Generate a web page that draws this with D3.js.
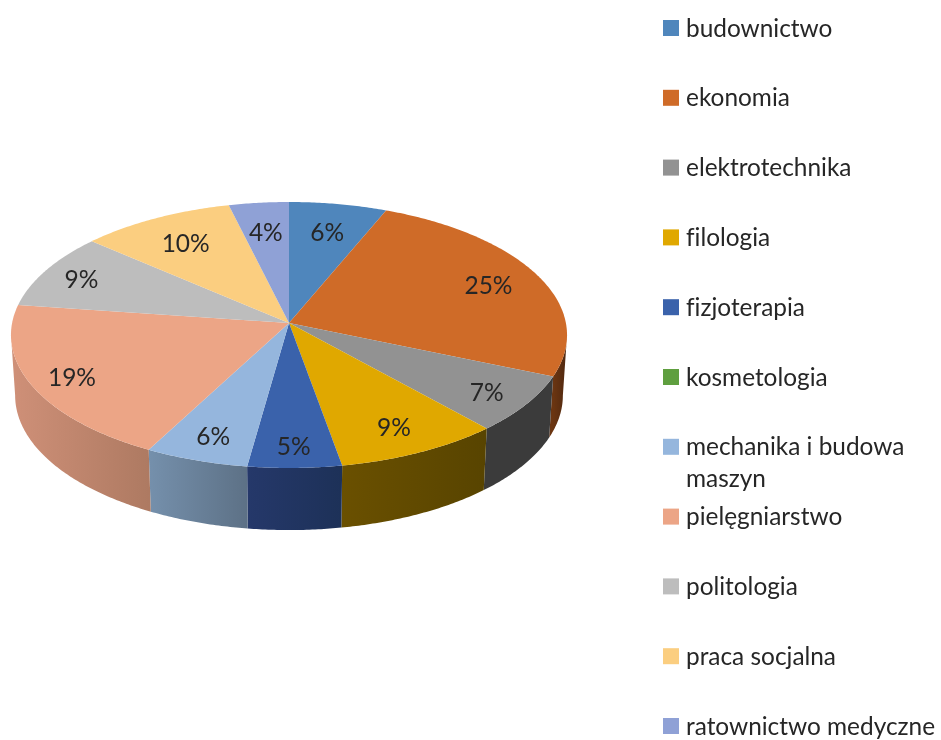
<!DOCTYPE html>
<html><head><meta charset="utf-8">
<style>html,body{margin:0;padding:0;background:#fff;overflow:hidden}svg{display:block;filter:blur(0.45px)}text{font-family:Lato,"Open Sans",sans-serif;fill:#262626;font-variant-ligatures:none}</style>
<script src="https://cdn.jsdelivr.net/npm/d3@7/dist/d3.min.js"></script>
</head><body><svg id="c" width="941" height="740"></svg>
<script>
const categories=["budownictwo","ekonomia","elektrotechnika","filologia","fizjoterapia","kosmetologia","mechanika i budowa maszyn","pielęgniarstwo","politologia","praca socjalna","ratownictwo medyczne"];
const legendLines=[["budownictwo"],["ekonomia"],["elektrotechnika"],["filologia"],["fizjoterapia"],["kosmetologia"],["mechanika i budowa","maszyn"],["pielęgniarstwo"],["politologia"],["praca socjalna"],["ratownictwo medyczne"]];
const values=[6.2,25.2,7,8.8,5,0,5.52,19.48,9.2,9.8,3.8];
const topColors=["#4f86bc","#cf6b28","#929292","#e0a800","#3a62ab","#5f9f3f","#95b6dd","#eca586","#bdbdbd","#fbce80","#8fa1d6"];
const sideStart=["#2f5070","#6b3511","#3b3b3b","#6a5000","#25386a","#3a6026","#7590ac","#cf9078","#7a7a7a","#a08550","#5a6688"];
const sideEnd=["#2f5070","#4f2810","#3b3b3b","#584400","#1d3158","#3a6026","#5d7186","#ae7a62","#7a7a7a","#a08550","#5a6688"];
const labelRadius=[.76,.8,.84,.81,.85,.8,.83,.85,.85,.76,.75];

const W=941,cx=289,cy=323,rx=276.9,ry=131.9,k=0.0902;
const svg=d3.select("#c");
const defs=svg.append("defs");
const fmt=d3.format(".0%");
const total=d3.sum(values);
const pie=d3.pie().sort(null).value(d=>d)(values);
const color=d3.scaleOrdinal(categories,topColors);
const legendY=d3.scaleLinear().domain([0,1]).range([28,97.8]);

function project(a,r=1){const u=Math.sin(a)*r,v=-Math.cos(a)*r,w=1-k*v;return [cx+rx*u/w,cy+ry*v/w];}
function lower([x,y]){return [cx+(x-cx)*0.985,y+60.5+(y-335)*0.012];}
const line=d3.line();
function rim(a0,a1){const n=Math.max(2,Math.ceil((a1-a0)/0.01));return d3.range(n+1).map(i=>project(a0+(a1-a0)*i/n));}

const aR=Math.PI/2+0.09,aL=3*Math.PI/2-0.09;
const slices=pie.map((d,i)=>({...d,i})).filter(d=>d.value>0);

const sides=svg.append("g");
slices.forEach(d=>{
  const a0=Math.max(d.startAngle,aR),a1=Math.min(d.endAngle,aL);
  if(a1<=a0)return;
  const top=rim(a0,a1),bot=top.map(lower).reverse();
  const xs=top.map(p=>p[0]);
  const id="g"+d.i;
  const g=defs.append("linearGradient").attr("id",id).attr("gradientUnits","userSpaceOnUse")
    .attr("x1",d3.min(xs)).attr("x2",d3.max(xs)).attr("y1",0).attr("y2",0);
  g.append("stop").attr("offset",0).attr("stop-color",sideStart[d.i]);
  g.append("stop").attr("offset",1).attr("stop-color",sideEnd[d.i]);
  sides.append("path").attr("d",line(top.concat(bot))+"Z").attr("fill",`url(#${id})`);
});

svg.append("g").selectAll("path").data(slices).join("path")
  .attr("d",d=>line([[cx,cy]].concat(rim(d.startAngle,d.endAngle)))+"Z")
  .attr("fill",d=>color(categories[d.i]));

svg.append("g").selectAll("text").data(slices).join("text")
  .attr("x",d=>project((d.startAngle+d.endAngle)/2,labelRadius[d.i])[0])
  .attr("y",d=>project((d.startAngle+d.endAngle)/2,labelRadius[d.i])[1])
  .attr("dy","0.42em").attr("text-anchor","middle").attr("font-size",24.5)
  .text(d=>fmt(d.value/total));

const lg=svg.append("g").selectAll("g").data(categories).join("g");
lg.append("rect").attr("x",663).attr("y",(d,i)=>legendY(i)-8).attr("width",16).attr("height",16).attr("fill",d=>color(d));
lg.each(function(d,i){
  const t=d3.select(this).append("text").attr("font-size",24.4);
  legendLines[i].forEach((l,j)=>t.append("tspan").attr("x",686).attr("y",legendY(i)+j*32).attr("dy","0.35em").text(l));
});
</script></body></html>
